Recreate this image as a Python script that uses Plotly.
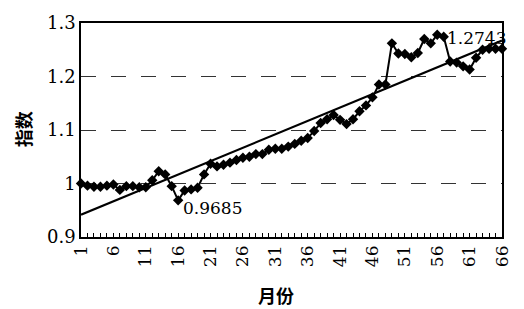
import numpy as np
import plotly.graph_objects as go

months = list(range(1, 67))
index_values = [
    1.000, 0.996, 0.994, 0.994, 0.996, 0.998, 0.988, 0.995, 0.995, 0.993,
    0.993, 1.006, 1.023, 1.017, 0.995, 0.9685, 0.987, 0.989, 0.992, 1.017,
    1.037, 1.032, 1.035, 1.039, 1.044, 1.048, 1.050, 1.055, 1.055, 1.063,
    1.065, 1.065, 1.069, 1.074, 1.080, 1.085, 1.098, 1.113, 1.120, 1.128,
    1.119, 1.111, 1.120, 1.135, 1.146, 1.161, 1.185, 1.185, 1.262, 1.243,
    1.242, 1.236, 1.244, 1.270, 1.262, 1.278, 1.2743, 1.228, 1.226, 1.219,
    1.213, 1.235, 1.250, 1.252, 1.252, 1.252,
]
x_tick_vals = list(range(1, 67, 5))
y_tick_vals = [0.9, 1.0, 1.1, 1.2, 1.3]
y_tick_text = ["0.9", "1", "1.1", "1.2", "1.3"]
min_label = "0.9685"
max_label = "1.2743"
x_title = "月份"
y_title = "指数"

slope, intercept = np.polyfit(months, index_values, 1)
trend = [slope * m + intercept for m in months]

serif = "DejaVu Serif"
cjk = "Noto Sans CJK SC"
fig = go.Figure()
fig.add_trace(go.Scatter(x=months, y=trend, mode="lines",
                         line=dict(color="black", width=2.2), cliponaxis=False,
                         hoverinfo="skip"))
fig.add_trace(go.Scatter(x=months, y=index_values, mode="lines+markers",
                         line=dict(color="black", width=2),
                         marker=dict(symbol="diamond", size=8, color="black"),
                         cliponaxis=False))

imin = 15
imax = 56
fig.add_annotation(x=months[imin], y=index_values[imin], text=min_label,
                   showarrow=False, xanchor="left", yanchor="middle",
                   xshift=3, yshift=-8, font=dict(family=serif, size=17, color="black"))
fig.add_annotation(x=months[imax], y=index_values[imax], text=max_label,
                   showarrow=False, xanchor="left", yanchor="middle",
                   xshift=1, yshift=-1, font=dict(family=serif, size=17, color="black"))
fig.add_annotation(xref="paper", yref="paper", x=(277 - 81) / 423, y=-(296 - 237) / 216,
                   text=x_title, showarrow=False, xanchor="center", yanchor="middle",
                   font=dict(family=cjk, size=18, color="black", weight="bold"))
fig.add_annotation(xref="paper", yref="paper", x=-(81 - 23) / 423, y=(237 - 128) / 216,
                   text=y_title, showarrow=False, xanchor="center", yanchor="middle",
                   textangle=-90,
                   font=dict(family=cjk, size=18, color="black", weight="bold"))

fig.update_layout(
    width=524, height=309,
    margin=dict(l=81, r=20, t=21, b=72),
    paper_bgcolor="white", plot_bgcolor="white",
    showlegend=False,
    xaxis=dict(range=[1, 66], tickvals=x_tick_vals, ticktext=[str(v) for v in x_tick_vals],
               tickangle=-90, ticks="inside", ticklen=4, tickcolor="black",
               minor=dict(dtick=1, tick0=1, ticks="inside", ticklen=4, tickcolor="black"),
               showgrid=False, zeroline=False, showline=True, linecolor="black",
               linewidth=1.5, mirror=True,
               tickfont=dict(family=serif, size=17, color="black")),
    yaxis=dict(range=[0.9, 1.3], tickvals=y_tick_vals, ticktext=y_tick_text,
               ticks="", showgrid=True, gridcolor="#333333", gridwidth=1, griddash="longdash",
               zeroline=False, showline=True, linecolor="black", linewidth=1.5, mirror=True,
               tickfont=dict(family=serif, size=18, color="black")),
)
fig.write_html("out.html")
